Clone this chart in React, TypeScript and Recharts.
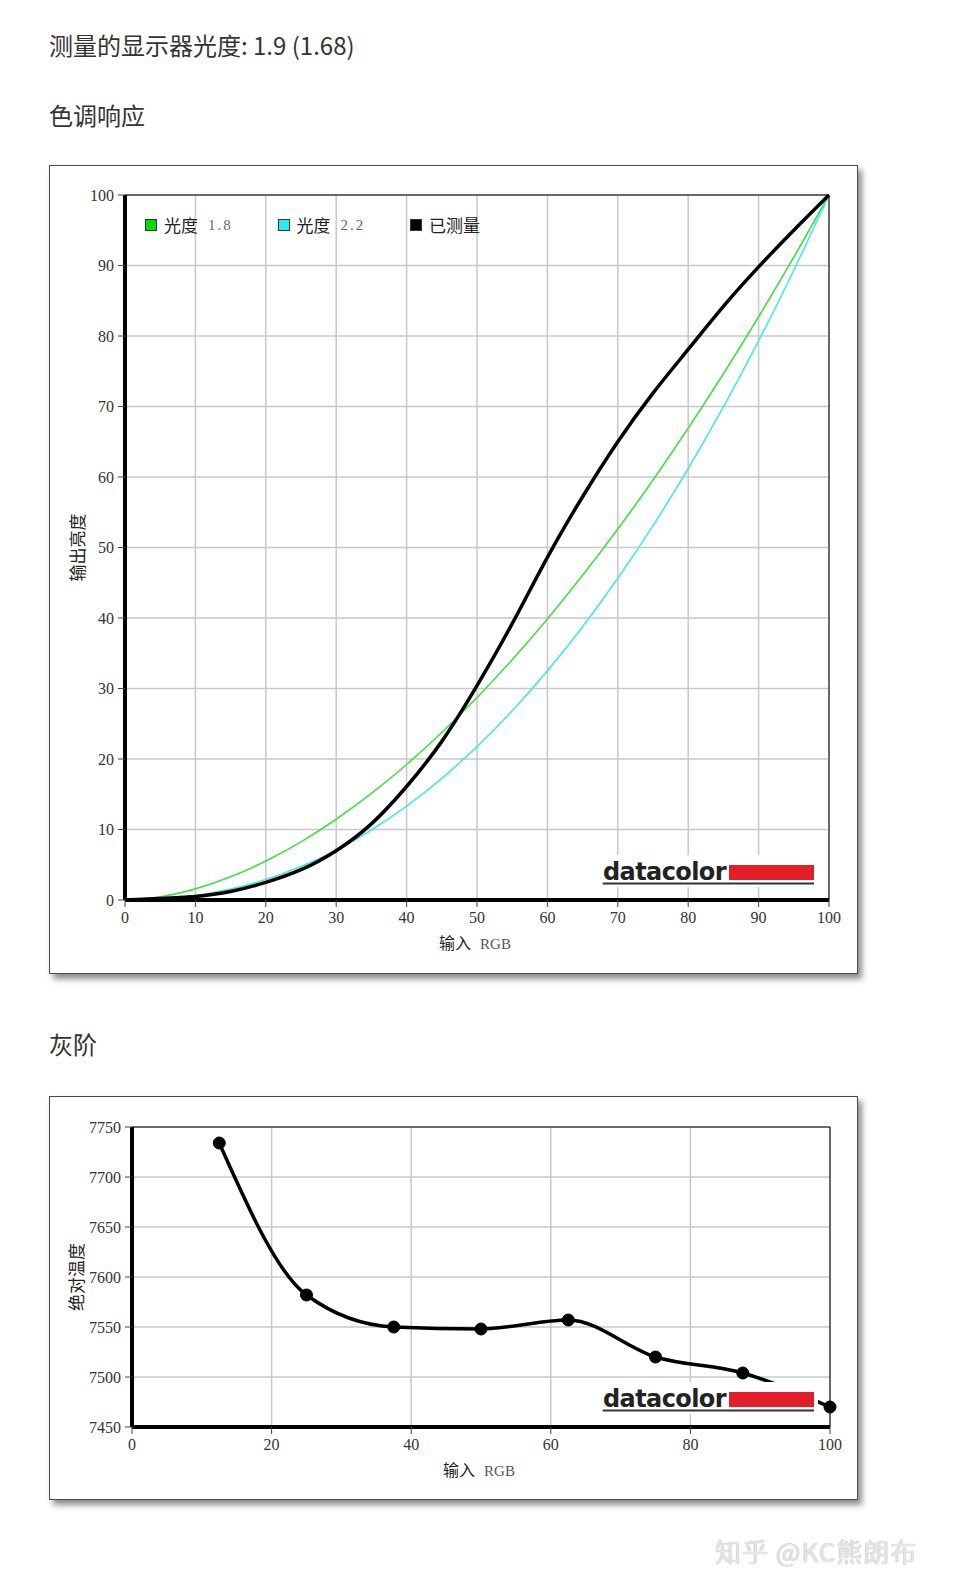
import React from "react";
import {
  CartesianGrid,
  Legend,
  Line,
  LineChart,
  ReferenceLine,
  XAxis,
  YAxis,
} from "recharts";

// 色调响应 — input RGB steps and output luminance (%)
const inputRgb = [0, 5, 10, 15, 20, 25, 30, 35, 40, 45, 50, 55, 60, 65, 70, 75, 80, 85, 90, 95, 100];
const gamma18 = [0, 0.45, 1.58, 3.29, 5.52, 8.25, 11.45, 15.11, 19.22, 23.76, 28.72, 34.09, 39.87, 46.05, 52.62, 59.58, 66.92, 74.64, 82.73, 91.18, 100];
const gamma22 = [0, 0.14, 0.63, 1.54, 2.9, 4.74, 7.07, 9.93, 13.32, 17.26, 21.76, 26.84, 32.5, 38.76, 45.63, 53.1, 61.21, 69.94, 79.31, 89.33, 100];
const measured = [0, 0.2, 0.5, 1.2, 2.5, 4.3, 7.0, 10.8, 16.1, 22.5, 30.4, 39.2, 48.6, 57.2, 65.0, 71.9, 78.1, 84.2, 89.8, 95.0, 100];
const toneTicks = [0, 10, 20, 30, 40, 50, 60, 70, 80, 90, 100];
const seriesNames = ["光度 1.8", "光度 2.2", "已测量"];

// 灰阶 — colour temperature per grey step
const grayInput = [12.5, 25, 37.5, 50, 62.5, 75, 87.5, 100];
const grayTemp = [7734, 7582, 7550, 7548, 7557, 7520, 7504, 7470];
const grayXTicks = [0, 20, 40, 60, 80, 100];
const grayYTicks = [7450, 7500, 7550, 7600, 7650, 7700, 7750];

const toneData = inputRgb.map((x, i) => ({
  x,
  g18: gamma18[i],
  g22: gamma22[i],
  measured: measured[i],
}));
const grayData = grayInput.map((x, i) => ({ x, temp: grayTemp[i] }));

const CJK = '"Noto Sans CJK SC", "Noto Sans", sans-serif';
const SERIF = '"Liberation Serif", "DejaVu Serif", serif';
const tickStyle = { fontFamily: SERIF, fontSize: 16, fill: "#333" };
const gridColor = "#c8c8c8";
const legendColors = ["#00dd00", "#22f0f0", "#000"];

function XTitle(props: any) {
  const vb = props.viewBox || {};
  return (
    <text x={vb.x + vb.width / 2 - 2} y={vb.y + 49} textAnchor="middle">
      <tspan fontFamily={CJK} fontSize={16} fill="#222">输入</tspan>
      <tspan dx={9} fontFamily={SERIF} fontSize={15} fill="#555">RGB</tspan>
    </text>
  );
}

function yTitle(text: string, dx: number) {
  return (props: any) => {
    const vb = props.viewBox || {};
    const cx = vb.x + dx;
    const cy = vb.y + vb.height / 2;
    return (
      <text
        x={cx}
        y={cy}
        textAnchor="middle"
        dominantBaseline="central"
        transform={`rotate(-90 ${cx} ${cy})`}
        fontFamily={CJK}
        fontSize={17}
        fill="#222"
      >
        {text}
      </text>
    );
  };
}

function ToneLegend() {
  return (
    <div style={{ display: "flex", alignItems: "center", height: 24 }}>
      {seriesNames.map((name, i) => {
        const [word, num] = name.split(" ");
        return (
          <div key={name} style={{ display: "flex", alignItems: "center", width: 132.5 }}>
            <span
              style={{
                width: 10,
                height: 10,
                border: "1px solid #333",
                background: legendColors[i],
                marginRight: 7,
              }}
            />
            <span style={{ fontFamily: CJK, fontSize: 17, color: "#222", lineHeight: "24px" }}>{word}</span>
            {num ? (
              <span style={{ fontFamily: SERIF, fontSize: 15, color: "#666", marginLeft: 10, letterSpacing: 2 }}>
                {num}
              </span>
            ) : null}
          </div>
        );
      })}
    </div>
  );
}

function Logo({ left, top }: { left: number; top: number }) {
  return (
    <svg style={{ position: "absolute", left, top }} width={222} height={38}>
      <rect x={0} y={5} width={220} height={32} fill="#fff" />
      <text
        x={5}
        y={30}
        fontFamily='"DejaVu Sans", "Liberation Sans", sans-serif'
        fontWeight="bold"
        fontSize={24}
        letterSpacing={-0.6}
        fill="#222"
      >
        datacolor
      </text>
      <rect x={131} y={15} width={85} height={15} fill="#e31e26" />
      <rect x={4.7} y={32.5} width={211.3} height={2} fill="#333" />
    </svg>
  );
}

function Frame({ left, top, width, height, children }: any) {
  return (
    <div style={{ position: "absolute", left, top, width, height }}>
      <div
        style={{
          position: "absolute",
          inset: 0,
          border: "1.5px solid #4a4a4a",
          background: "#fff",
          boxShadow: "4px 5px 6px rgba(0,0,0,0.45)",
        }}
      />
      <div style={{ position: "absolute", left: 0, top: 0 }}>{children}</div>
    </div>
  );
}

const heading = { position: "absolute" as const, left: 41, fontFamily: CJK, fontSize: 24, lineHeight: "24px", color: "#333" };

export default function App() {
  return (
    <div style={{ position: "relative", width: 937, height: 1575, background: "#fff" }}>
      <div style={{ ...heading, top: 25 }}>测量的显示器光度: 1.9 (1.68)</div>
      <div style={{ ...heading, top: 95 }}>色调响应</div>

      <Frame left={41} top={157} width={809} height={809}>
        <LineChart width={809} height={809} data={toneData} margin={{ top: 30, right: 29, left: 16, bottom: 30 }}>
          <CartesianGrid stroke={gridColor} strokeWidth={1.5} />
          <XAxis
            dataKey="x"
            type="number"
            domain={[0, 100]}
            ticks={toneTicks}
            height={44}
            tick={tickStyle}
            tickSize={7}
            tickMargin={5}
            tickLine={{ stroke: "#444", strokeWidth: 1 }}
            axisLine={{ stroke: "#000", strokeWidth: 4 }}
            label={{ content: XTitle }}
          />
          <YAxis
            type="number"
            domain={[0, 100]}
            ticks={toneTicks}
            width={60}
            tick={tickStyle}
            tickSize={7}
            tickMargin={4}
            tickLine={{ stroke: "#444", strokeWidth: 1 }}
            axisLine={{ stroke: "#000", strokeWidth: 4 }}
            label={{ content: yTitle("输出亮度", 11) }}
          />
          <ReferenceLine y={100} stroke="#444" strokeWidth={1.5} />
          <ReferenceLine x={100} stroke="#444" strokeWidth={1.5} />
          <Legend
            layout="horizontal"
            verticalAlign="middle"
            align="center"
            wrapperStyle={{ top: 48, left: 96, width: 420, height: 24 }}
            content={() => <ToneLegend />}
          />
          <Line name={seriesNames[0]} type="monotone" dataKey="g18" stroke="#45dd45" strokeWidth={1.6} dot={false} isAnimationActive={false} />
          <Line name={seriesNames[1]} type="monotone" dataKey="g22" stroke="#45e8e8" strokeWidth={1.6} dot={false} isAnimationActive={false} />
          <Line name={seriesNames[2]} type="natural" dataKey="measured" stroke="#000" strokeWidth={3.5} dot={false} isAnimationActive={false} />
        </LineChart>
      </Frame>
      <Logo left={590} top={842} />

      <div style={{ ...heading, top: 1024 }}>灰阶</div>

      <Frame left={41} top={1088} width={809} height={404}>
        <LineChart width={809} height={404} data={grayData} margin={{ top: 31, right: 28, left: 16, bottom: 29 }}>
          <CartesianGrid stroke={gridColor} strokeWidth={1.5} />
          <XAxis
            dataKey="x"
            type="number"
            domain={[0, 100]}
            ticks={grayXTicks}
            height={44}
            tick={tickStyle}
            tickSize={7}
            tickMargin={5}
            tickLine={{ stroke: "#444", strokeWidth: 1 }}
            axisLine={{ stroke: "#000", strokeWidth: 4 }}
            label={{ content: XTitle }}
          />
          <YAxis
            type="number"
            domain={[7450, 7750]}
            ticks={grayYTicks}
            width={67}
            tick={tickStyle}
            tickSize={7}
            tickMargin={4}
            tickLine={{ stroke: "#444", strokeWidth: 1 }}
            axisLine={{ stroke: "#000", strokeWidth: 4 }}
            label={{ content: yTitle("绝对温度", 10) }}
          />
          <ReferenceLine y={7750} stroke="#444" strokeWidth={1.5} />
          <ReferenceLine x={100} stroke="#444" strokeWidth={1.5} />
          <Line
            type="monotone"
            dataKey="temp"
            stroke="#000"
            strokeWidth={3.5}
            dot={{ r: 6, fill: "#000", stroke: "#000", strokeWidth: 1 }}
            isAnimationActive={false}
          />
        </LineChart>
      </Frame>
      <Logo left={590} top={1369} />

      <div
        style={{
          position: "absolute",
          left: 707,
          top: 1529,
          fontFamily: CJK,
          fontSize: 26,
          lineHeight: "28px",
          color: "#e6e6e6",
          textShadow: "0 0 1px #999",
          letterSpacing: 1,
        }}
      >
        知乎 @KC熊朗布
      </div>
    </div>
  );
}
